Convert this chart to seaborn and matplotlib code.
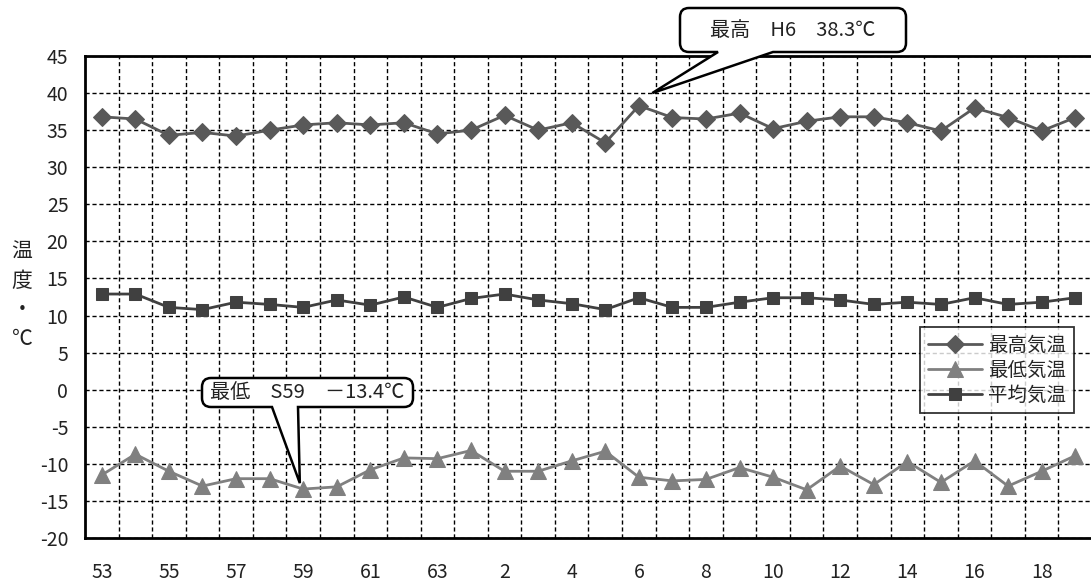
import numpy as np
import pandas as pd
import matplotlib
matplotlib.use('Agg')
import matplotlib.pyplot as plt
from matplotlib.path import Path
from matplotlib.patches import PathPatch
from matplotlib.transforms import IdentityTransform
import seaborn as sns

# x categories: Showa 53-63, Heisei 1-19
years = ['53', '54', '55', '56', '57', '58', '59', '60', '61', '62', '63',
         '1', '2', '3', '4', '5', '6', '7', '8', '9', '10',
         '11', '12', '13', '14', '15', '16', '17', '18', '19']

t_max = [36.8, 36.5, 34.3, 34.7, 34.2, 35.0, 35.7, 36.0, 35.7, 36.0, 34.5,
         35.0, 37.0, 35.0, 36.0, 33.3, 38.3, 36.7, 36.5, 37.3, 35.2,
         36.2, 36.8, 36.8, 36.0, 34.9, 38.0, 36.7, 34.9, 36.7]
t_min = [-11.5, -8.7, -11.0, -13.0, -12.0, -12.0, -13.4, -13.1, -10.8, -9.2, -9.3,
         -8.2, -11.0, -11.0, -9.6, -8.3, -11.8, -12.3, -12.1, -10.5, -11.8,
         -13.5, -10.3, -12.8, -9.7, -12.5, -9.6, -13.0, -11.0, -8.9]
t_mean = [12.9, 12.9, 11.1, 10.8, 11.8, 11.5, 11.1, 12.1, 11.4, 12.5, 11.1,
          12.3, 12.9, 12.1, 11.6, 10.8, 12.4, 11.1, 11.1, 11.8, 12.4,
          12.4, 12.1, 11.5, 11.8, 11.5, 12.4, 11.5, 11.8, 12.4]

series_names = ['最高気温', '最低気温', '平均気温']

sns.set_style('white')
plt.rcParams['font.family'] = ['Noto Sans CJK JP', 'DejaVu Sans']
plt.rcParams['axes.unicode_minus'] = False

W, H = 1091, 582
fig = plt.figure(figsize=(W / 100, H / 100), dpi=100)
ax = fig.add_axes([85 / W, (H - 538) / H, 1007 / W, 482 / H])

df = pd.DataFrame({'pos': np.arange(len(years)), 'max': t_max,
                   'min': t_min, 'mean': t_mean})

sns.lineplot(data=df, x='pos', y='max', ax=ax, color='#595959', lw=2,
             marker='D', markersize=9, markeredgecolor='#595959',
             label=series_names[0], zorder=5)
sns.lineplot(data=df, x='pos', y='min', ax=ax, color='#808080', lw=2,
             marker='^', markersize=11.5, markeredgecolor='#808080',
             label=series_names[1], zorder=5)
sns.lineplot(data=df, x='pos', y='mean', ax=ax, color='#404040', lw=2,
             marker='s', markersize=9, markeredgecolor='#404040',
             label=series_names[2], zorder=5)

ax.set_xlim(-0.5, len(years) - 0.5)
ax.set_ylim(-20, 45)
ax.set_yticks(np.arange(-20, 46, 5))
ax.set_xticks(np.arange(0, len(years), 2))
ax.set_xticklabels(years[::2])
ax.set_xticks(np.arange(0.5, len(years) - 0.5, 1), minor=True)
ax.set_xlabel('')
ax.set_ylabel('')
ax.tick_params(axis='both', which='both', length=0, labelsize=14, colors='#222222')
ax.tick_params(axis='x', pad=17)
ax.tick_params(axis='y', pad=12)

ax.grid(False)
ax.grid(axis='x', which='minor', color='black', ls=(0, (3, 2)), lw=1)
ax.grid(axis='y', which='major', color='black', ls=(0, (3, 2)), lw=1)
ax.set_axisbelow(True)

for s in ['left', 'bottom', 'top']:
    ax.spines[s].set_color('black')
    ax.spines[s].set_linewidth(2)
ax.spines['right'].set_visible(False)

leg = ax.legend(loc='upper left', bbox_to_anchor=(920 / W, 1 - 327 / H),
                bbox_transform=fig.transFigure, borderaxespad=0,
                frameon=True, fancybox=False, fontsize=14, handlelength=2.8,
                labelspacing=0.2, borderpad=0.4, handletextpad=0.3)
leg.get_frame().set_edgecolor('black')
leg.get_frame().set_linewidth(1.3)
leg.set_zorder(10)

# y label, stacked vertically
for i, ch in enumerate(['温', '度', '・', '℃']):
    fig.text(22 / W, 1 - (252 + i * 29) / H, ch, ha='center', va='center',
             fontsize=15, color='#222222')


def callout(box, base, tip, text):
    L, R, T, B = box
    T, B = H - T, H - B
    a, b = base
    tx, ty = ax.transData.transform(tip)
    r = 9
    verts = [(L + r, T), (R - r, T), (R, T), (R, T - r), (R, B + r), (R, B), (R - r, B),
             (b, B), (tx, ty), (a, B), (L + r, B), (L, B), (L, B + r), (L, T - r),
             (L, T), (L + r, T), (L + r, T)]
    codes = [Path.MOVETO, Path.LINETO, Path.CURVE3, Path.CURVE3, Path.LINETO,
             Path.CURVE3, Path.CURVE3, Path.LINETO, Path.LINETO, Path.LINETO,
             Path.LINETO, Path.CURVE3, Path.CURVE3, Path.LINETO, Path.CURVE3,
             Path.CURVE3, Path.CLOSEPOLY]
    p = PathPatch(Path(verts, codes), facecolor='white', edgecolor='black',
                  lw=1.8, transform=IdentityTransform(), zorder=20)
    fig.add_artist(p)
    fig.text((L + R) / 2 / W, (T + B) / 2 / H, text, ha='center', va='center',
             fontsize=14.5, color='#222222', zorder=21)


fig.canvas.draw()
callout((680, 906, 8, 52), (718, 773), (16.4, 40), '最高　H6　38.3℃')
callout((202, 413, 378, 407), (272, 298), (5.9, -12.6), '最低　S59　－13.4℃')

fig.savefig('out.png', dpi=100)
